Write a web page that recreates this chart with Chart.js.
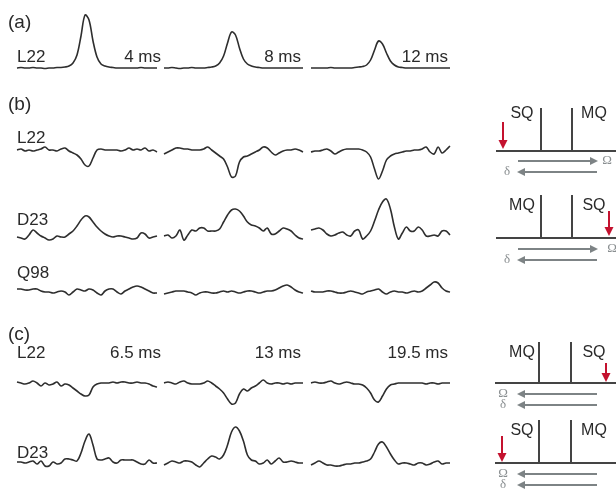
<!DOCTYPE html>
<html>
<head>
<meta charset="utf-8">
<script src="https://cdn.jsdelivr.net/npm/chart.js@4.4.1/dist/chart.umd.min.js"></script>
<style>
  html, body { margin: 0; padding: 0; background: #fff; }
  canvas { display: block; }
</style>
</head>
<body>
<canvas id="fig" width="616" height="489"></canvas>
<script>
// intensities, one array per trace (36 samples each)
const a_L22_4ms  = [0,0.5,0,0,0.5,0,0,-0.5,0,0,0.5,0.5,1,2,5,13,32,53,48,27,11,4,2,1,0.5,0,0,0,0,0,0,0.5,0,0,0,0];
const a_L22_8ms  = [0,0,0.5,0,-0.5,0,0,0.5,0,0,0,0.5,1,2,5,12,25,36,33,20,9,4,2,1,0.5,0,0,0,0,0,0,0,0,0,0,0];
const a_L22_12ms = [0,0,0,0,0,0.5,0,0,0,0,0,0.5,1,1.5,3,8,18,27,24,15,7,3,1,0.5,0,0,0,0,0,0,0,0,0,0,0,0];

const b_L22_1 = [1,2,0,1,0,1,2,4,1,1,0,2,3,0,-2,-4,-8,-14,-15,-7,1,2,1,1,1,1,0,1,3,1,2,1,3,0,1,-1];
const b_L22_2 = [-3,-1,1,3,3,2,2,1,1,1,2,4,1,-2,-5,-8,-16,-26,-25,-11,-6,-5,-3,-1,1,4,3,-1,-4,-2,0,1,1,2,1,-1];
const b_L22_3 = [-1,0,0,1,2,0,-3,-1,1,2,2,2,2,1,-1,-6,-18,-28,-20,-9,-5,-3,-2,-1,0,0,1,1,2,4,-1,-3,4,-2,1,5];

const b_D23_1 = [0,-1,-2,2,7,4,1,-1,-3,-2,1,0,0,3,6,11,17,21,20,15,10,6,3,1,0,1,1,0,-1,-2,-1,4,3,-1,0,1];
const b_D23_2 = [1,2,-1,1,7,-3,2,7,6,9,9,6,6,6,8,15,22,27,28,26,21,15,12,11,9,6,9,3,3,6,9,8,6,2,-1,-2];
const b_D23_3 = [7,8,9,7,3,1,2,4,5,2,1,6,7,-2,1,6,16,27,35,38,28,10,-2,4,10,6,6,10,7,1,1,2,1,6,6,2];

const b_Q98_1 = [3,3,2,2,3,3,1,0,0,-1,0,1,0,-3,0,3,2,1,3,2,-1,-3,1,3,3,0,-2,1,3,5,6,5,3,1,-1,-1];
const b_Q98_2 = [-2,-1,0,1,1,1,0,-1,-3,-1,0,0,-1,-1,0,1,0,1,0,-1,0,1,1,0,-1,0,1,1,2,4,6,7,5,2,0,-1];
const b_Q98_3 = [1,0,0,0,1,1,0,-1,-1,0,1,0,-1,-2,0,1,2,3,0,-2,0,1,0,0,-1,0,1,0,1,4,7,10,9,4,1,0];

const c_L22_1 = [2,1,0,1,3,1,-2,1,-1,0,2,-2,0,-1,-4,-7,-10,-12,-11,-3,0,1,1,1,2,1,2,2,1,1,2,1,1,0,-2,-3];
const c_L22_2 = [1,2,1,0,2,3,1,0,0,0,1,3,1,-2,-5,-9,-15,-20,-19,-10,-5,-7,-4,-2,1,4,1,0,1,1,0,1,0,1,1,1];
const c_L22_3 = [1,2,1,1,2,3,1,0,1,2,1,0,0,-1,-4,-9,-16,-18,-12,-5,-1,0,1,1,1,1,1,1,1,0,1,1,0,1,1,1];

const c_D23_1 = [1,1,0,1,2,-1,2,-3,-3,1,-1,0,4,4,3,2,10,22,29,18,4,3,4,5,1,0,3,3,3,3,1,-1,-1,3,0,0];
const c_D23_2 = [-2,0,2,1,0,2,2,1,-2,-4,0,4,7,6,4,8,18,31,36,32,22,8,3,2,-1,0,3,-1,2,5,1,1,2,1,0,0];
const c_D23_3 = [-2,0,2,0,-2,-2,-3,-3,-2,-1,-1,0,0,1,2,4,11,19,21,16,9,3,-1,0,0,-1,-2,0,0,-2,-1,1,2,-1,0,0];

const panelLabels = ['(a)', '(b)', '(c)'];
const delayLabelsA = ['4 ms', '8 ms', '12 ms'];
const delayLabelsC = ['6.5 ms', '13 ms', '19.5 ms'];

// layout (pixel units on both linear scales)
const cols = [[17, 157], [164, 303], [311, 450]];
const rows = [
  { name: 'L22', base: 68,  labelY: 57,  traces: [a_L22_4ms, a_L22_8ms, a_L22_12ms] },
  { name: 'L22', base: 151, labelY: 138, traces: [b_L22_1, b_L22_2, b_L22_3] },
  { name: 'D23', base: 237, labelY: 220, traces: [b_D23_1, b_D23_2, b_D23_3] },
  { name: 'Q98', base: 292, labelY: 273, traces: [b_Q98_1, b_Q98_2, b_Q98_3] },
  { name: 'L22', base: 384, labelY: 353, traces: [c_L22_1, c_L22_2, c_L22_3] },
  { name: 'D23', base: 463, labelY: 453, traces: [c_D23_1, c_D23_2, c_D23_3] }
];
const panelY = [23, 105, 335];
const delayRight = [161, 301, 448];

// energy-level style schematics on the right
const schemes = [
  { base: 151, top: 108, x0: 496, sticks: [541, 572], names: ['SQ', 'MQ'], nameY: 114,
    red: { x: 503, y0: 122, y1: 149 }, arrows: [
      { y: 161, dir: 1, sym: '\u03A9', symX: 607 }, { y: 172, dir: -1, sym: '\u03B4', symX: 507 }] },
  { base: 238, top: 195, x0: 496, sticks: [541, 572], names: ['MQ', 'SQ'], nameY: 206,
    red: { x: 609, y0: 211, y1: 236 }, arrows: [
      { y: 249, dir: 1, sym: '\u03A9', symX: 612 }, { y: 260, dir: -1, sym: '\u03B4', symX: 507 }] },
  { base: 383, top: 342, x0: 495, sticks: [539, 571], names: ['MQ', 'SQ'], nameY: 353,
    red: { x: 606, y0: 363, y1: 382 }, arrows: [
      { y: 394, dir: -1, sym: '\u03A9', symX: 503 }, { y: 405, dir: -1, sym: '\u03B4', symX: 503 }] },
  { base: 463, top: 420, x0: 495, sticks: [539, 571], names: ['SQ', 'MQ'], nameY: 431,
    red: { x: 502, y0: 436, y1: 462 }, arrows: [
      { y: 474, dir: -1, sym: '\u03A9', symX: 503 }, { y: 485, dir: -1, sym: '\u03B4', symX: 503 }] }
];

const datasets = [];
rows.forEach(r => {
  r.traces.forEach((vals, c) => {
    const [x0, x1] = cols[c];
    datasets.push({
      data: vals.map((v, i) => ({ x: x0 + i * (x1 - x0) / (vals.length - 1), y: r.base - v })),
      borderColor: '#2e2e2e', borderWidth: 1.6, pointRadius: 0, tension: 0.35, clip: false
    });
  });
});
schemes.forEach(s => {
  datasets.push({ data: [{ x: s.x0, y: s.base }, { x: 616, y: s.base }],
    borderColor: '#444', borderWidth: 2, pointRadius: 0, tension: 0, clip: false });
  s.sticks.forEach(sx => datasets.push({ data: [{ x: sx, y: s.top }, { x: sx, y: s.base }],
    borderColor: '#444', borderWidth: 2, pointRadius: 0, tension: 0, clip: false }));
});

function arrow(ctx, x0, y0, x1, y1, color, head) {
  const ang = Math.atan2(y1 - y0, x1 - x0);
  ctx.strokeStyle = color; ctx.fillStyle = color; ctx.lineWidth = 2;
  ctx.beginPath();
  ctx.moveTo(x0, y0);
  ctx.lineTo(x1 - Math.cos(ang) * head * 0.8, y1 - Math.sin(ang) * head * 0.8);
  ctx.stroke();
  ctx.beginPath();
  ctx.moveTo(x1, y1);
  ctx.lineTo(x1 - head * Math.cos(ang) + head * 0.5 * Math.sin(ang), y1 - head * Math.sin(ang) - head * 0.5 * Math.cos(ang));
  ctx.lineTo(x1 - head * Math.cos(ang) - head * 0.5 * Math.sin(ang), y1 - head * Math.sin(ang) + head * 0.5 * Math.cos(ang));
  ctx.closePath();
  ctx.fill();
}

const annotate = {
  id: 'annotate',
  afterDatasetsDraw(chart) {
    const ctx = chart.ctx;
    const X = v => chart.scales.x.getPixelForValue(v);
    const Y = v => chart.scales.y.getPixelForValue(v);
    ctx.save();
    ctx.fillStyle = '#2a2a2a';
    ctx.textBaseline = 'middle';
    ctx.textAlign = 'left';
    ctx.font = '19px "Liberation Sans", Arial, sans-serif';
    panelLabels.forEach((t, i) => ctx.fillText(t, X(8), Y(panelY[i])));
    ctx.font = '17px "Liberation Sans", Arial, sans-serif';
    rows.forEach(r => ctx.fillText(r.name, X(17), Y(r.labelY)));
    ctx.textAlign = 'right';
    delayLabelsA.forEach((t, i) => ctx.fillText(t, X(delayRight[i]), Y(57)));
    delayLabelsC.forEach((t, i) => ctx.fillText(t, X(delayRight[i]), Y(353)));

    schemes.forEach(s => {
      ctx.fillStyle = '#2a2a2a';
      ctx.textAlign = 'center';
      ctx.font = '16px "Liberation Sans", Arial, sans-serif';
      ctx.fillText(s.names[0], X(522), Y(s.nameY));
      ctx.fillText(s.names[1], X(594), Y(s.nameY));
      arrow(ctx, X(s.red.x), Y(s.red.y0), X(s.red.x), Y(s.red.y1), '#c4122f', 9);
      s.arrows.forEach(a => {
        const from = a.dir > 0 ? 518 : 597, to = a.dir > 0 ? 598 : 517;
        arrow(ctx, X(from), Y(a.y), X(to), Y(a.y), '#7d8385', 8);
        ctx.fillStyle = '#8a8f91';
        ctx.font = '13px "Liberation Serif", "DejaVu Serif", serif';
        ctx.fillText(a.sym, X(a.symX), Y(a.y));
      });
    });
    ctx.restore();
  }
};

new Chart(document.getElementById('fig'), {
  type: 'line',
  data: { datasets },
  options: {
    responsive: false,
    animation: false,
    devicePixelRatio: 1,
    layout: { padding: 0 },
    scales: {
      x: { type: 'linear', min: 0, max: 616, display: false },
      y: { type: 'linear', min: 0, max: 489, reverse: true, display: false }
    },
    plugins: { legend: { display: false }, tooltip: { enabled: false } }
  },
  plugins: [annotate]
});
</script>
</body>
</html>
